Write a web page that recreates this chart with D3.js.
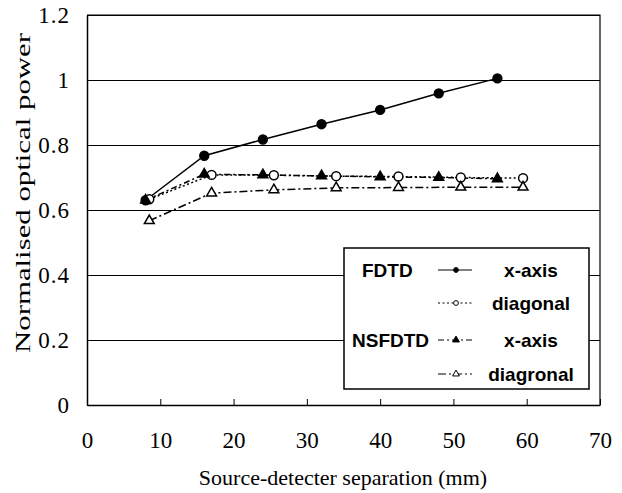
<!DOCTYPE html>
<html>
<head>
<meta charset="utf-8">
<script src="https://cdn.jsdelivr.net/npm/d3@7"></script>
<style>
  body { margin: 0; background: #fff; }
  .tick text { font-family: "Liberation Serif", "Times New Roman", serif; font-size: 23px; fill: #000; }
  .legend text { font-family: "Liberation Sans", Arial, sans-serif; font-weight: bold; font-size: 19px; fill: #000; }
</style>
</head>
<body>
<div id="graph"></div>
<script>
// data
const xAxisDist = [8, 16, 24, 32, 40, 48, 56];
const diagDist = [8.5, 17, 25.5, 34, 42.5, 51, 59.5];
const fdtdX = [0.63, 0.767, 0.817, 0.864, 0.908, 0.959, 1.005];
const fdtdDiag = [0.633, 0.708, 0.707, 0.704, 0.703, 0.700, 0.698];
const nsfdtdX = [0.63, 0.71, 0.708, 0.705, 0.702, 0.700, 0.696];
const nsfdtdDiag = [0.567, 0.652, 0.662, 0.668, 0.669, 0.670, 0.670];
const xTicks = [0, 10, 20, 30, 40, 50, 60, 70];
const yTicks = [0, 0.2, 0.4, 0.6, 0.8, 1, 1.2];
const legendGroups = ['FDTD', '', 'NSFDTD', ''];
const legendNames = ['x-axis', 'diagonal', 'x-axis', 'diagronal'];

const margin = {top: 15, left: 87},
      width = 513,
      height = 390;

const x = d3.scaleLinear().domain([0, 70]).range([0, width]);
const y = d3.scaleLinear().domain([0, 1.2]).range([height, 0]);

const svg = d3.select('#graph')
  .append('svg')
    .attr('width', 622)
    .attr('height', 493)
  .append('g')
    .attr('transform', `translate(${margin.left},${margin.top})`);

// gridlines + y labels
svg.append('g')
  .attr('class', 'y-axis')
  .call(d3.axisLeft(y).tickValues(yTicks).tickFormat(d3.format('')).tickSizeInner(-width).tickSizeOuter(0).tickPadding(17))
  .call(g => g.selectAll('.tick line').attr('stroke', '#000').attr('stroke-width', 1.2))
  .call(g => g.selectAll('.tick text').style('letter-spacing', '1px'))
  .call(g => g.select('.domain').attr('stroke-width', 1.5));

// x axis, ticks pointing inward
svg.append('g')
  .attr('class', 'x-axis')
  .attr('transform', `translate(0,${height})`)
  .call(d3.axisBottom(x).tickValues(xTicks).tickSizeInner(-6).tickSizeOuter(0).tickPadding(27))
  .call(g => g.select('.domain').attr('stroke-width', 1.5));

// frame top and right
svg.append('path')
  .attr('d', `M0,0H${width}V${height}`)
  .attr('fill', 'none')
  .attr('stroke', '#000')
  .attr('stroke-width', 1.2);

const series = [
  {xs: xAxisDist, ys: fdtdX, dash: null, marker: 'circle', fill: '#000'},
  {xs: diagDist, ys: fdtdDiag, dash: '2,2.5', marker: 'circle', fill: '#fff'},
  {xs: xAxisDist, ys: nsfdtdX, dash: '6,3,2,3', marker: 'triangle', fill: '#000'},
  {xs: diagDist, ys: nsfdtdDiag, dash: '8,3,2,3', marker: 'triangle', fill: '#fff'}
];

const line = d3.line().x(d => x(d[0])).y(d => y(d[1]));

series.forEach(s => {
  const pts = s.xs.map((v, i) => [v, s.ys[i]]);
  svg.append('path')
    .datum(pts)
    .attr('d', line)
    .attr('fill', 'none')
    .attr('stroke', '#000')
    .attr('stroke-width', 1.5)
    .attr('stroke-dasharray', s.dash);
});

const symbolFor = (m, size) => d3.symbol().type(m === 'circle' ? d3.symbolCircle : d3.symbolTriangle).size(size);

series.forEach(s => {
  svg.selectAll(null)
    .data(s.xs.map((v, i) => [v, s.ys[i]]))
    .enter()
      .append('path')
        .attr('transform', d => `translate(${x(d[0])},${y(d[1])})`)
        .attr('d', symbolFor(s.marker, s.marker === 'circle' ? 62 : 42))
        .attr('fill', s.fill)
        .attr('stroke', '#000')
        .attr('stroke-width', 1.5);
});

// legend
const legend = svg.append('g')
  .attr('class', 'legend')
  .attr('transform', `translate(${344 - margin.left},${248 - margin.top})`);

legend.append('rect')
  .attr('width', 245)
  .attr('height', 141)
  .attr('fill', '#fff')
  .attr('stroke', '#000')
  .attr('stroke-width', 1.5);

const rowY = [22, 55, 92, 126];
const groupX = [18, 0, 8, 0];

series.forEach((s, i) => {
  if (legendGroups[i]) {
    legend.append('text')
      .attr('x', groupX[i])
      .attr('y', rowY[i])
      .attr('dy', '0.36em')
      .text(legendGroups[i]);
  }
  legend.append('line')
    .attr('x1', 94).attr('x2', 128)
    .attr('y1', rowY[i]).attr('y2', rowY[i])
    .attr('stroke', '#000')
    .attr('stroke-width', 1.2)
    .attr('stroke-dasharray', s.dash);
  legend.append('path')
    .attr('transform', `translate(112,${rowY[i]})`)
    .attr('d', symbolFor(s.marker, s.marker === 'circle' ? 18 : 20))
    .attr('fill', s.fill)
    .attr('stroke', '#000')
    .attr('stroke-width', 1);
  legend.append('text')
    .attr('x', 187)
    .attr('y', rowY[i])
    .attr('dy', '0.36em')
    .attr('text-anchor', 'middle')
    .text(legendNames[i]);
});

// axis titles
svg.append('text')
  .attr('x', 343 - margin.left)
  .attr('y', 485 - margin.top)
  .style('text-anchor', 'middle')
  .style('font-family', '"Liberation Serif", "Times New Roman", serif')
  .style('font-size', '22px')
  .text('Source-detecter separation (mm)');

svg.append('text')
  .attr('transform', `translate(${30 - margin.left},${193 - margin.top}) rotate(-90)`)
  .style('text-anchor', 'middle')
  .style('font-family', '"Liberation Serif", "Times New Roman", serif')
  .style('font-size', '22px')
  .attr('textLength', 320)
  .attr('lengthAdjust', 'spacingAndGlyphs')
  .text('Normalised optical power');
</script>
</body>
</html>
